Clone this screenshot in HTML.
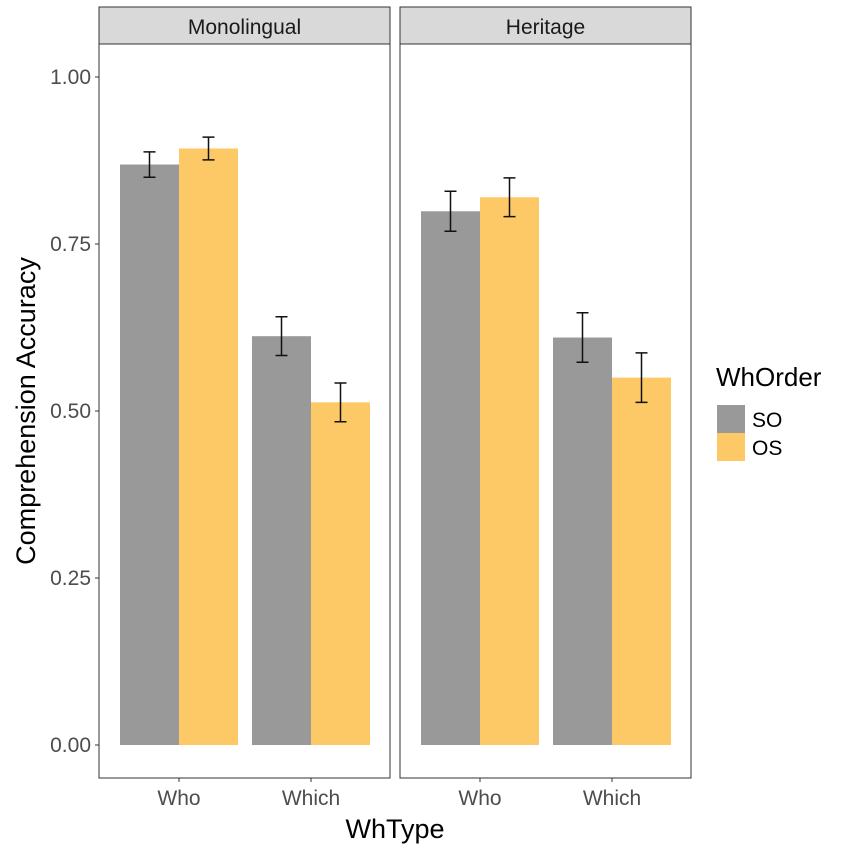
<!DOCTYPE html>
<html><head><meta charset="utf-8"><style>
body{margin:0;background:#fff;}
svg text{font-family:"Liberation Sans",sans-serif;}
</style></head><body>
<svg id="c" width="851" height="851" viewBox="0 0 851 851" xmlns="http://www.w3.org/2000/svg"></svg>
<script>
const panels = ["Monolingual","Heritage"];
const whTypes = ["Who","Which"];
const orders = ["SO","OS"];
const soValues = [[0.869,0.612],[0.799,0.610]];
const osValues = [[0.893,0.513],[0.820,0.550]];
const soErr = [[0.019,0.029],[0.030,0.037]];
const osErr = [[0.017,0.029],[0.029,0.037]];
const yTicks = [0,0.25,0.5,0.75,1.0];
const yTickLabels = ["0.00","0.25","0.50","0.75","1.00"];
const colors = {SO:"#999999", OS:"#FDC966"};

const NS="http://www.w3.org/2000/svg";
const svg=document.getElementById('c');
function mk(tag,attrs,parent){const e=document.createElementNS(NS,tag);for(const k in attrs)e.setAttribute(k,attrs[k]);(parent||svg).appendChild(e);return e;}
const y0=745, y1=77;
function yScale(v){return y0-(y0-y1)*v;}
const panelX=[99,400], panelW=291, plotTop=44, plotBot=778;
function xCenter(p,w){return panelX[p]+80+w*132;}
const barW=59;

panels.forEach((name,p)=>{
  const g=mk('g',{});
  
  
  const strip=mk('rect',{x:panelX[p],y:7,width:panelW,height:37,fill:'#D9D9D9',stroke:'#333','stroke-width':1},g);
  
  
  const st=mk('text',{x:panelX[p]+panelW/2,y:34,'font-size':21,'text-anchor':'middle',fill:'#1a1a1a'},g);
  st.textContent=name;
  
  
  const fr=mk('rect',{x:panelX[p],y:plotTop,width:panelW,height:plotBot-plotTop,fill:'none',stroke:'#333','stroke-width':1},g);
  
  
  whTypes.forEach((wt,w)=>{
    const cx=xCenter(p,w);
    [[soValues,soErr,'SO'],[osValues,osErr,'OS']].forEach(([vals,errs,o],i)=>{
      const v=vals[p][w], e=errs[p][w];
      const x=cx-barW+i*barW;
      const r=mk('rect',{x:x,y:yScale(v),width:barW,height:yScale(0)-yScale(v),fill:colors[o]},g);
      
      
      const bx=x+barW/2;
      const eb=mk('path',{d:`M${bx-6},${yScale(v+e)}H${bx+6}M${bx},${yScale(v+e)}V${yScale(v-e)}M${bx-6},${yScale(v-e)}H${bx+6}`,stroke:'#111','stroke-width':1.5,fill:'none'},g);
      
      
    });
    mk('line',{x1:cx,x2:cx,y1:plotBot,y2:plotBot+4,stroke:'#333'},g);
    const xl=mk('text',{x:cx,y:805,'font-size':21,'text-anchor':'middle',fill:'#4d4d4d'},g);
    xl.textContent=wt;
    
    
  });
});
yTicks.forEach((t,i)=>{
  const y=yScale(t);
  mk('line',{x1:95,x2:99,y1:y,y2:y,stroke:'#333'});
  const tl=mk('text',{x:91,y:y+7,'font-size':21,'text-anchor':'end',fill:'#4d4d4d'});
  tl.textContent=yTickLabels[i];
  
  
});
const yt=mk('text',{x:0,y:0,'font-size':27,'text-anchor':'middle',fill:'#000',transform:'translate(35,411) rotate(-90)'});
yt.textContent='Comprehension Accuracy';


const xt=mk('text',{x:395,y:838,'font-size':27,'text-anchor':'middle',fill:'#000'});
xt.textContent='WhType';


const lt=mk('text',{x:716,y:386,'font-size':26,fill:'#000'});
lt.textContent='WhOrder';


orders.forEach((o,i)=>{
  const k=mk('rect',{x:717,y:405+i*28,width:28,height:28,fill:colors[o]});
  
  
  const l=mk('text',{x:752,y:427+i*28,'font-size':21,fill:'#000'});
  l.textContent=o;
  
  
});
</script>
</body></html>
